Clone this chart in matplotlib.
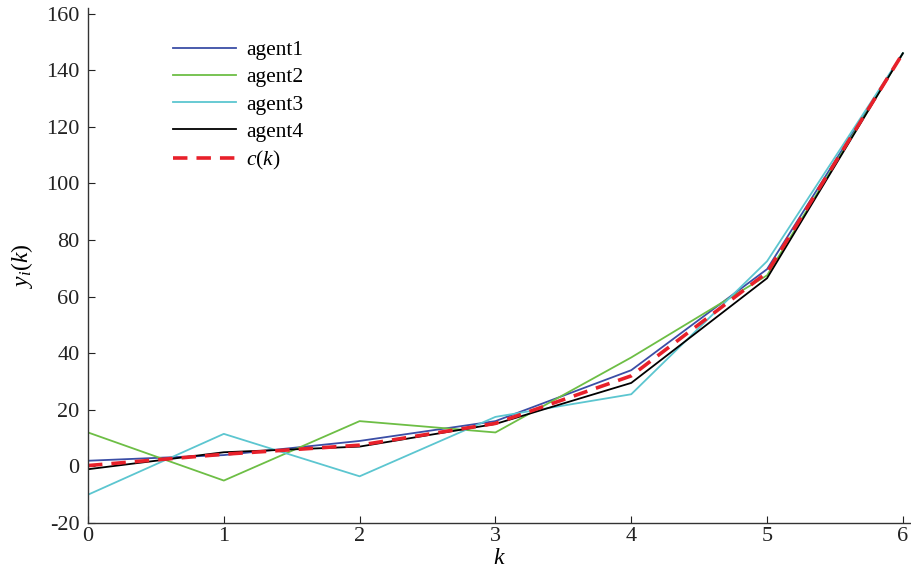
import matplotlib
matplotlib.use('Agg')
import matplotlib.pyplot as plt

plt.rcParams['font.family'] = ['Liberation Serif', 'DejaVu Serif']
plt.rcParams['mathtext.fontset'] = 'custom'
plt.rcParams['mathtext.rm'] = 'Liberation Serif'
plt.rcParams['mathtext.it'] = 'Liberation Serif:italic'
plt.rcParams['axes.unicode_minus'] = False

k = [0, 1, 2, 3, 4, 5, 6]
agent1 = [2.0, 4.0, 9.0, 16.0, 34.0, 69.7, 146.0]
agent2 = [12.0, -5.0, 16.0, 12.0, 38.5, 67.5, 146.0]
agent3 = [-10.0, 11.5, -3.5, 17.5, 25.5, 72.5, 146.0]
agent4 = [-1.0, 5.0, 7.0, 15.0, 29.5, 66.5, 146.0]
ck = [0.3, 4.3, 7.5, 15.2, 32.0, 68.5, 146.0]

fig = plt.figure(figsize=(9.12, 5.72), dpi=100)
ax = fig.add_axes([88 / 912, 1 - 523 / 572, 823 / 912, 515 / 572])

ax.plot(k, agent1, color='#3b4ea6', lw=1.3, label='agent1')
ax.plot(k, agent2, color='#6dbe45', lw=1.3, label='agent2')
ax.plot(k, agent3, color='#5cc6d0', lw=1.3, label='agent3')
ax.plot(k, agent4, color='black', lw=1.3, label='agent4')
ax.plot(k, ck, color='#e8202a', lw=2.6, ls=(0, (4, 2.5)), label='$c(k)$')

ax.set_xlim(0, 6.06)
ax.set_ylim(-20, 162)
ax.set_xticks(range(0, 7))
ax.set_yticks(range(-20, 161, 20))
for s in ['top', 'right']:
    ax.spines[s].set_visible(False)
ax.spines['left'].set_linewidth(1.0)
ax.spines['bottom'].set_linewidth(1.0)
ax.spines['left'].set_color('#333333')
ax.spines['bottom'].set_color('#333333')
ax.tick_params(direction='in', length=5, labelsize=16, colors='#222222')
ax.tick_params(axis='x', pad=3)
ax.tick_params(axis='y', pad=6)

ax.set_xlabel('$k$', fontsize=17, labelpad=1)
ax.set_ylabel('$y_i(k)$', fontsize=17, labelpad=8)

ax.legend(loc='upper left', bbox_to_anchor=(0.08, 0.975), frameon=False,
          fontsize=15.5, handlelength=2.9, labelspacing=0.33, handletextpad=0.5)

fig.savefig('out.png', dpi=100)
